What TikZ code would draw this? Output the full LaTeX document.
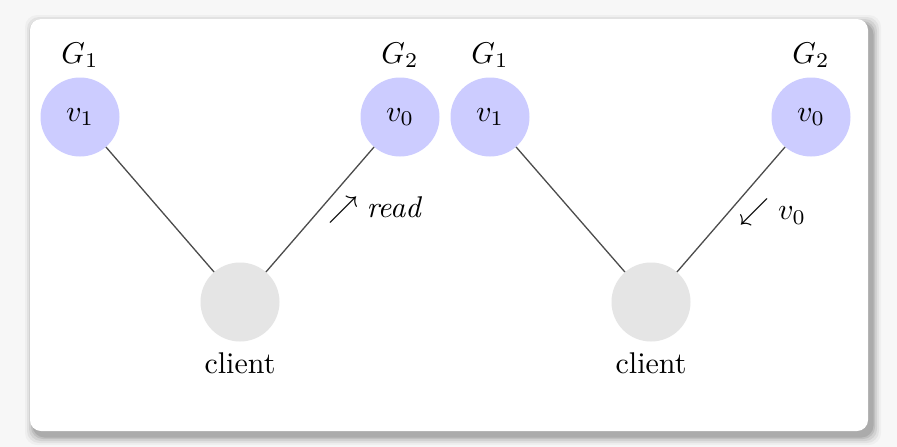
\documentclass[tikz,border=0pt]{standalone}
\usepackage{graphicx}
\usepackage{amssymb}
\newcommand{\bigtxt}[1]{\scalebox{3}{#1}}
\begin{document}
\begin{tikzpicture}[x=1pt,y=-1pt,
  server/.style={circle,fill=blue!20,minimum size=79pt,inner sep=0pt},
  clientnode/.style={circle,fill=black!10,minimum size=79pt,inner sep=0pt},
  link/.style={draw=black!70,line width=1.3pt},
  lbl/.style={inner sep=0pt},
  every node/.append style={font=\fontsize{10}{12}\selectfont}]
\useasboundingbox (0,0) rectangle (897,447);
\fill[black!3] (0,0) rectangle (897,447);
% shadow
\foreach \i/\o in {9/0.03,7/0.05,5/0.07,3/0.09,1.5/0.1}
  \fill[black,opacity=\o,rounded corners=12pt] (30-\i+4,19-\i+5) rectangle (868+\i+4,431+\i+5);
\fill[white,rounded corners=11pt] (30,19) rectangle (868,431);
% left diagram
\node[server] (a1) at (80,117) {\bigtxt{$v_1$}};
\node[server] (a2) at (400,117) {\bigtxt{$v_0$}};
\node[clientnode] (ac) at (240,302) {};
\node[lbl] (ag1) at (80,55) {\bigtxt{$G_1$}};
\node[lbl] (ag2) at (400,55) {\bigtxt{$G_2$}};
\node[lbl] (acl) at (240,363) {\bigtxt{client}};
\draw[link] (a1) -- (ac);
\draw[link] (a2) -- (ac);
\node[lbl] (ar) at (376,210) {\bigtxt{$\nearrow \mathit{read}$}};
% right diagram
\node[server] (b1) at (490,117) {\bigtxt{$v_1$}};
\node[server] (b2) at (811,117) {\bigtxt{$v_0$}};
\node[clientnode] (bc) at (651,302) {};
\node[lbl] (bg1) at (490,55) {\bigtxt{$G_1$}};
\node[lbl] (bg2) at (811,55) {\bigtxt{$G_2$}};
\node[lbl] (bcl) at (651,363) {\bigtxt{client}};
\draw[link] (b1) -- (bc);
\draw[link] (b2) -- (bc);
\node[lbl] (br) at (773,212) {\bigtxt{$\swarrow v_0$}};
\end{tikzpicture}
\end{document}
